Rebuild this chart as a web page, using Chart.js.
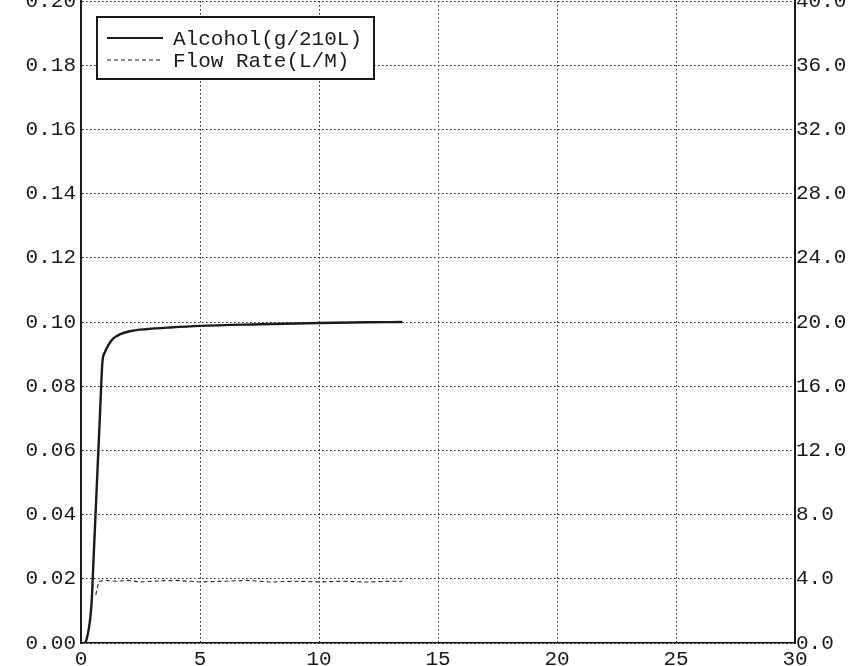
<!DOCTYPE html>
<html>
<head>
<meta charset="utf-8">
<script src="https://cdn.jsdelivr.net/npm/chart.js@4/dist/chart.umd.min.js"></script>
<style>
  html, body { margin: 0; padding: 0; background: #fff; }
  #wrap { width: 858px; height: 666px; }
</style>
</head>
<body>
<div id="wrap"><canvas id="breathChart"></canvas></div>
<script>
// time axis (x) and series
const alcoholTime = [0.15, 0.23, 0.44, 0.55, 0.67, 0.79, 0.9, 1.0, 1.15, 1.35, 1.65, 2.1, 2.8, 3.75, 5, 7.5, 10, 12, 13.5];
const alcoholValues = [0, 0.001, 0.012, 0.03, 0.05, 0.07, 0.0875, 0.0905, 0.0928, 0.0948, 0.0962, 0.0972, 0.0978, 0.0983, 0.0988, 0.0993, 0.0997, 0.0999, 0.1];

const flowTime = [0.62, 0.75, 1, 1.5, 2, 2.5, 3, 4, 5, 6, 7, 8, 9, 10, 11, 12, 13, 13.5];
const flowValues = [3.0, 3.85, 3.9, 3.85, 3.9, 3.8, 3.85, 3.9, 3.8, 3.85, 3.9, 3.8, 3.85, 3.8, 3.85, 3.8, 3.85, 3.85];

const xTicks = [0, 5, 10, 15, 20, 25, 30];
const seriesLabels = ["Alcohol(g/210L)", "Flow Rate(L/M)"];

const FONT = "'Liberation Mono', 'DejaVu Sans Mono', monospace";
const INK = "#1a1a1a";

function points(xs, ys) {
  return xs.map((x, i) => ({ x: x, y: ys[i] }));
}

// boxed legend in the upper left corner of the plot
const boxedLegend = {
  id: "boxedLegend",
  afterDraw(chart) {
    const { ctx, chartArea } = chart;
    const left = chartArea.left + 16;
    const top = chartArea.top + 16;
    const w = 277;
    const h = 62;

    ctx.save();
    ctx.fillStyle = "#fff";
    ctx.fillRect(left, top, w, h);
    ctx.strokeStyle = INK;
    ctx.lineWidth = 2;
    ctx.strokeRect(left, top, w, h);

    ctx.font = "21px " + FONT;
    ctx.textBaseline = "middle";
    ctx.fillStyle = INK;

    chart.data.datasets.forEach((ds, i) => {
      const y = top + 21 + i * 22;
      ctx.beginPath();
      ctx.setLineDash(ds.borderDash || []);
      ctx.lineWidth = i === 0 ? 2 : 1.2;
      ctx.strokeStyle = INK;
      ctx.moveTo(left + 10, y);
      ctx.lineTo(left + 66, y);
      ctx.stroke();
      ctx.setLineDash([]);
      ctx.fillText(ds.label, left + 76, y + 1);
    });
    ctx.restore();
  }
};

new Chart(document.getElementById("breathChart"), {
  type: "line",
  data: {
    datasets: [
      {
        label: seriesLabels[0],
        data: points(alcoholTime, alcoholValues),
        borderColor: INK,
        borderWidth: 2.4,
        pointRadius: 0,
        cubicInterpolationMode: "monotone",
        yAxisID: "y"
      },
      {
        label: seriesLabels[1],
        data: points(flowTime, flowValues),
        borderColor: "#222",
        borderWidth: 1.1,
        borderDash: [4, 3],
        pointRadius: 0,
        tension: 0,
        yAxisID: "y2"
      }
    ]
  },
  options: {
    responsive: true,
    maintainAspectRatio: false,
    animation: false,
    layout: { padding: { top: 1, left: 0, right: 0, bottom: 0 } },
    plugins: {
      legend: { display: false },
      tooltip: { enabled: false }
    },
    scales: {
      x: {
        type: "linear",
        min: 0,
        max: 30,
        afterBuildTicks: (scale) => {
          scale.ticks = xTicks.map((v) => ({ value: v }));
        },
        afterFit: (scale) => {
          scale.height = 23;
          scale.paddingLeft = 0;
          scale.paddingRight = 0;
        },
        ticks: {
          color: INK,
          font: { family: FONT, size: 21 },
          padding: 4,
          maxRotation: 0
        },
        grid: { color: "#222", lineWidth: 1, drawTicks: false },
        border: { color: INK, width: 1.6, dash: [1.5, 2.5] }
      },
      y: {
        position: "left",
        min: 0,
        max: 0.2,
        afterFit: (scale) => {
          scale.width = 81;
          scale.paddingTop = 0;
          scale.paddingBottom = 0;
        },
        ticks: {
          stepSize: 0.02,
          color: INK,
          font: { family: FONT, size: 21 },
          padding: 5,
          callback: (v) => Number(v).toFixed(2)
        },
        grid: { color: "#222", lineWidth: 1, drawTicks: false },
        border: { color: INK, width: 2, dash: [1.5, 2.5] }
      },
      y2: {
        position: "right",
        min: 0,
        max: 40,
        afterFit: (scale) => {
          scale.width = 63;
          scale.paddingTop = 0;
          scale.paddingBottom = 0;
        },
        ticks: {
          stepSize: 4,
          color: INK,
          font: { family: FONT, size: 21 },
          padding: 1,
          callback: (v) => Number(v).toFixed(1)
        },
        grid: { drawOnChartArea: false, drawTicks: false },
        border: { color: INK, width: 2 }
      }
    }
  },
  plugins: [boxedLegend]
});
</script>
</body>
</html>
